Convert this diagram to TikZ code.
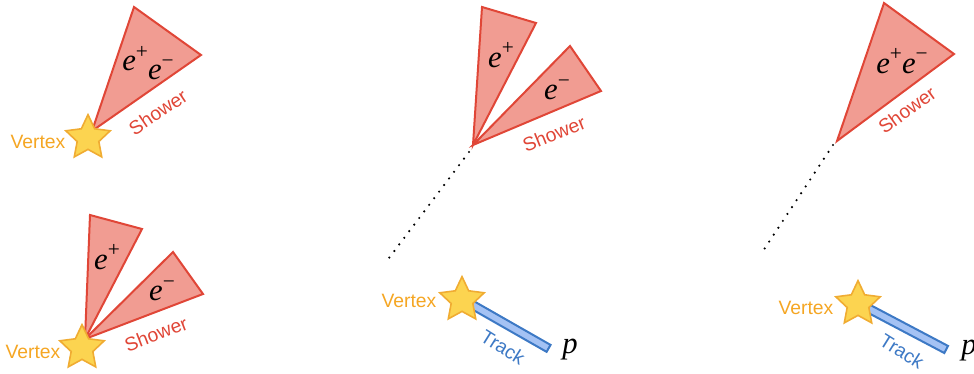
\documentclass[tikz,border=0pt]{standalone}
\usepackage{fontspec}
\setmainfont{Liberation Serif}
\newfontfamily\sansf{Liberation Sans}
\usetikzlibrary{shapes.geometric}
\definecolor{shfill}{RGB}{241,156,146}
\definecolor{shdraw}{RGB}{224,70,55}
\definecolor{stfill}{RGB}{252,212,80}
\definecolor{stdraw}{RGB}{240,172,50}
\definecolor{vtx}{RGB}{245,166,35}
\definecolor{trfill}{RGB}{164,194,244}
\definecolor{trdraw}{RGB}{61,121,197}
\newcommand{\pe}[1]{{\itshape e}\raisebox{0.40em}{\fontsize{16pt}{16pt}\selectfont #1}}
\begin{document}
\begin{tikzpicture}[x=0.75pt,y=-0.75pt,
  cone/.style={fill=shfill, draw=shdraw, line width=1.5pt, line join=miter},
  vstar/.style={star, star points=5, star point ratio=2.05, minimum size=35pt, inner sep=0pt, fill=stfill, draw=stdraw, line width=1.2pt},
  lab/.style={font=\sansf\fontsize{14.5pt}{17pt}\selectfont, inner sep=0pt},
  vlabel/.style={lab, text=vtx},
  shlabel/.style={lab, text=shdraw},
  trlabel/.style={lab, text=trdraw},
  ptext/.style={font=\fontsize{23pt}{26pt}\selectfont, inner sep=0pt},
  trackbox/.style={draw=trdraw, fill=trfill, line width=1.5pt, minimum width=74pt, minimum height=6pt, inner sep=0pt, anchor=west},
  dots/.style={line width=1.8pt, line cap=round, dash pattern=on 0pt off 6.2pt, black}]
\useasboundingbox (0,0) rectangle (974,374);

% ---------- Panel 1 ----------
\coordinate (a1) at (92,131);
\coordinate (t1) at (134,7);
\coordinate (r1) at (201,55);
\draw[cone] (a1) -- (t1) -- (r1) -- cycle;
\node[ptext] (ee1) at (148,63) {\pe{+}\raisebox{-0.3em}{\pe{−}}};
\node[shlabel, rotate=34] (sh1) at (158,112) {Shower};
\node[vstar] (v1) at (88,138) {};
\node[vlabel] (vl1) at (38,142) {Vertex};

% ---------- Panel 2 ----------
\coordinate (a2) at (85,339);
\coordinate (t2a) at (90,215);
\coordinate (r2a) at (142,229);
\coordinate (t2b) at (173,252);
\coordinate (r2b) at (203,294);
\draw[cone] (a2) -- (t2a) -- (r2a) -- cycle;
\draw[cone] (a2) -- (t2b) -- (r2b) -- cycle;
\node[ptext] (ep2) at (107,257) {\pe{+}};
\node[ptext] (em2) at (162,291) {\pe{−}};
\node[shlabel, rotate=21] (sh2) at (156,334) {Shower};
\node[vstar] (v2) at (82,348) {};
\node[vlabel] (vl2) at (33,352) {Vertex};

% ---------- Panel 3 ----------
\coordinate (a3) at (473,145);
\coordinate (t3a) at (482,7);
\coordinate (r3a) at (536,23);
\coordinate (t3b) at (570,46);
\coordinate (r3b) at (601,91);
\draw[cone] (a3) -- (t3a) -- (r3a) -- cycle;
\draw[cone] (a3) -- (t3b) -- (r3b) -- cycle;
\node[ptext] (ep3) at (501,55) {\pe{+}};
\node[ptext] (em3) at (557,90) {\pe{−}};
\node[shlabel, rotate=22] (sh3) at (554,134) {Shower};
\coordinate (d3s) at (469,152);
\coordinate (d3e) at (386,262);
\draw[dots] (d3s) -- (d3e);
\node[trackbox, rotate=-29.7] (tr3) at (462,299) {};
\node[vstar] (v3) at (462,300) {};
\node[vlabel] (vl3) at (409,301) {Vertex};
\node[trlabel, rotate=-32] (tl3) at (503,347) {Track};
\node[ptext] (p3) at (570,350) {\itshape p};

% ---------- Panel 4 ----------
\coordinate (a4) at (837,141);
\coordinate (t4) at (884,3);
\coordinate (r4) at (954,54);
\draw[cone] (a4) -- (t4) -- (r4) -- cycle;
\node[ptext] (ee4) at (902,61) {\pe{+}\pe{−}};
\node[shlabel, rotate=36] (sh4) at (907,110) {Shower};
\coordinate (d4s) at (833,145);
\coordinate (d4e) at (761,254);
\draw[dots] (d4s) -- (d4e);
\node[trackbox, rotate=-27.8] (tr4) at (858,303) {};
\node[vstar] (v4) at (858,304) {};
\node[vlabel] (vl4) at (806,308) {Vertex};
\node[trlabel, rotate=-32] (tl4) at (902,351) {Track};
\node[ptext] (p4) at (969,351) {\itshape p};
\end{tikzpicture}
\end{document}
